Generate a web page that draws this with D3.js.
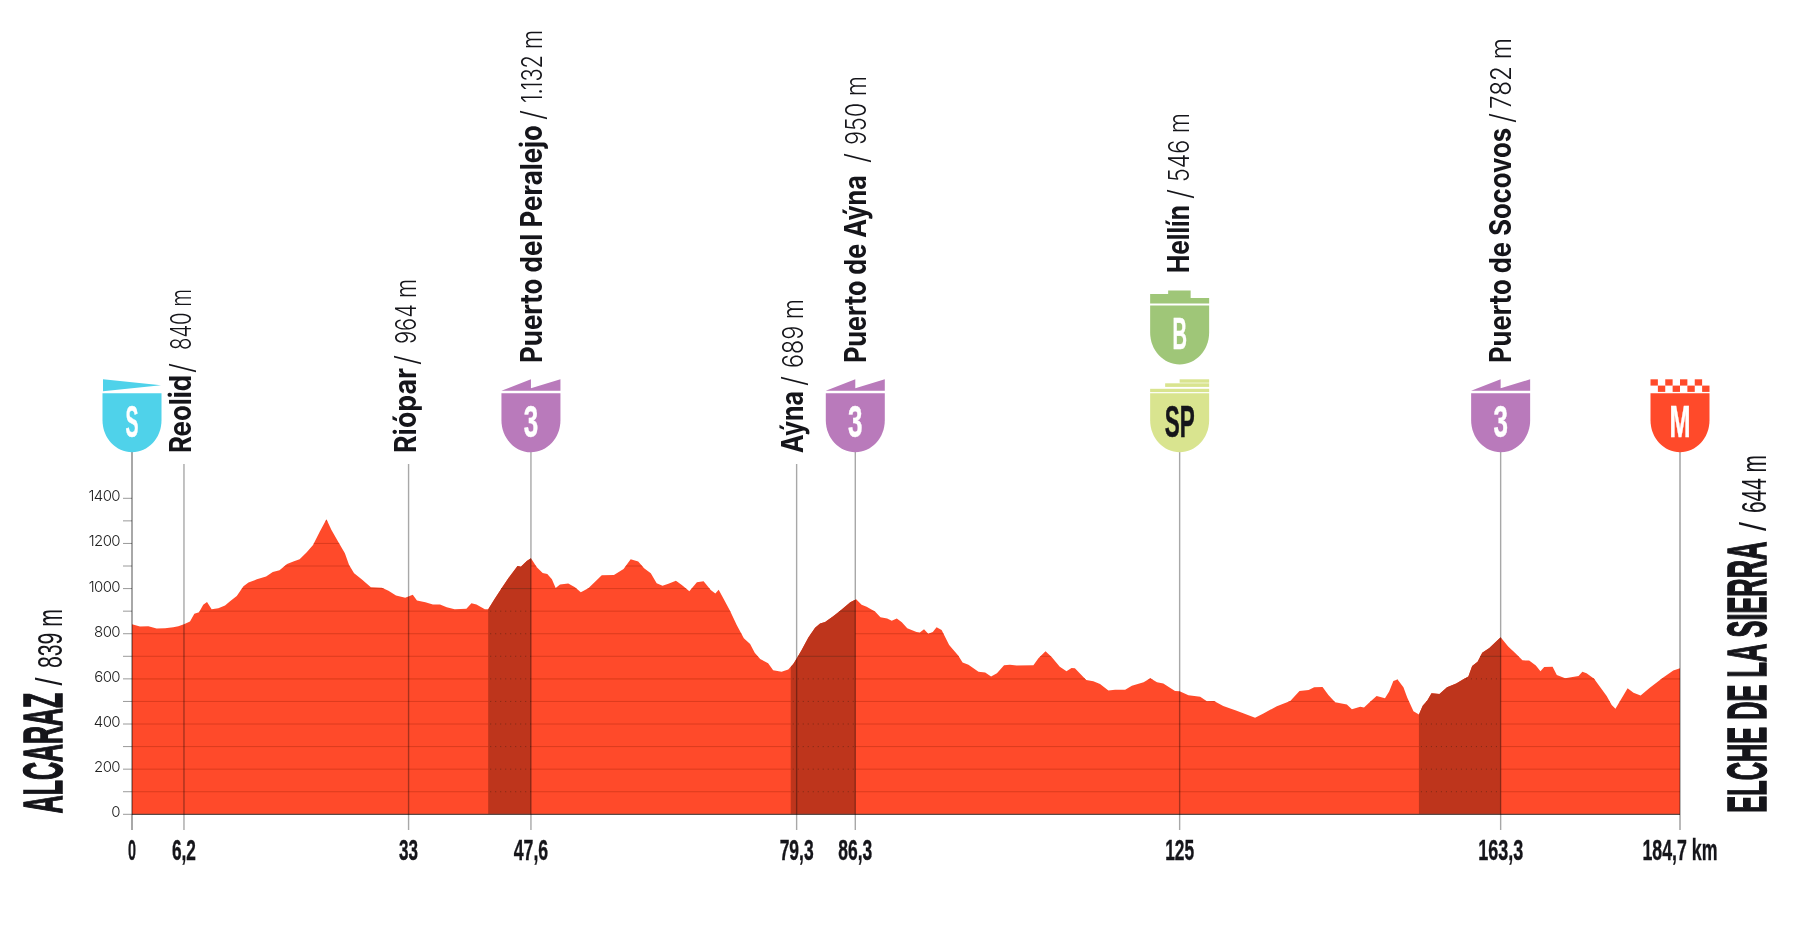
<!DOCTYPE html>
<html>
<head>
<meta charset="utf-8">
<script src="https://cdn.jsdelivr.net/npm/d3@7"></script>
<style>
html,body{margin:0;padding:0;background:#fff;}
svg{display:block;}
</style>
</head>
<body>
<svg id="chart" width="1798" height="938"></svg>
<script>
// profile: km and metres
const kms=[0,.95,1.95,2.94,3.94,4.93,5.53,6.2,6.92,7.44,8,8.5,8.95,9.5,10.3,11.1,11.7,12.5,13.3,13.9,14.9,16,16.8,17.6,18.5,19.25,20,20.85,21.6,22.4,23.2,23.8,24.6,25.4,25.9,26.5,27.4,28.5,29.8,30.6,31.5,32.6,33.5,34,35,35.9,36.75,
37.55,38.5,39.9,40.5,41.1,42.1,42.5,43.3,44.1,44.9,46,46.4,47.1,47.6,48.3,49,49.55,50.1,50.55,51.07,52.05,52.85,53.55,54.45,56.05,57.5,58.65,59.5,60.4,61.1,61.9,62.6,63.3,64,64.9,65.6,66.5,67.4,68.2,69.05,69.6,70,70.55,71.35,72.15,73,73.75,
74.3,74.95,75.9,76.5,77.5,78.3,78.9,79.4,79.9,80.7,81.5,82.1,82.7,83.7,84.5,85.7,86.4,87.05,87.65,88.65,89.3,90.1,90.65,91.25,91.85,92.5,93.6,94,94.5,95,95.55,96,96.6,97.5,98.6,99.1,99.8,101,101.8,102.5,103.2,104.05,104.75,105.55,107.55,108.15,109,109.75,110.7,
111.5,112.1,112.5,113.85,114.7,115.5,116.5,117.3,118.5,119.3,120.7,121.5,122.3,123.05,124.45,125,126.05,127.45,128.25,129.1,130.2,131.8,134,135,136.6,138.2,139.3,140.4,141.05,142.05,142.75,143.55,144.95,145.55,146.55,147,147.7,
148.5,149.5,150,150.5,151,151.7,152.15,152.9,153.55,154,154.55,155.05,156,156.9,158,158.65,159.45,159.9,160.55,161.1,161.95,163.3,164.2,165,165.9,166.7,167.5,168.05,168.5,169.5,170,171,172.6,173.05,173.55,174.45,175.95,176.55,177,178.45,179.15,180,181.1,182.7,183.9,184.7];
const elevs=[842,832,833,823,824,829,833,842,854,888,895,928,941,908,913,925,944,967,1010,1027,1041,1053,1074,1081,1109,1120,1130,1161,1193,1252,1307,1260,1208,1156,1105,1068,1041,1006,1004,990,969,959,973,947,939,930,929,
917,908,911,935,930,908,908,956,1001,1046,1100,1097,1122,1134,1094,1069,1065,1041,1003,1018,1022,1006,984,1001,1059,1060,1087,1130,1120,1090,1068,1024,1013,1021,1035,1016,988,1028,1032,994,978,995,957,902,839,780,755,
716,688,669,638,632,642,666,696,728,783,827,845,852,879,902,939,953,928,920,898,873,867,857,868,851,824,808,805,820,800,808,829,817,750,702,673,663,631,628,610,625,660,663,659,660,691,722,696,654,
634,648,647,595,589,577,548,552,552,570,585,603,585,580,546,545,527,521,501,502,480,459,428,447,479,502,546,551,563,564,529,496,486,465,476,473,498,
524,514,544,591,597,563,518,456,442,481,504,536,533,563,579,594,610,657,676,716,737,784,743,716,682,681,659,634,653,654,617,603,613,631,625,601,524,484,468,558,539,526,561,606,637,647];

// classified climbs: start km, summit km, dotted levels, solid levels
const climbStart=[42.5,78.6,153.55];
const climbEnd=[47.6,86.3,163.3];
const climbDotted=[[100,200,300,400,500,600,700,800,900],[100,200,300,400,500,600],[100,200,300,400,600]];
const climbSolid=[[1000],[700,900],[700]];

const gridLevels=d3.range(100,1400,100);
const yTicks=d3.range(0,1600,200);
const minorTicks=[100,300,500,700,900,1100,1300];

// waypoints along the route
const stopKm=[6.2,33,47.6,79.3,86.3,125,163.3];
const stopName=["Reolid","Riópar","Puerto del Peralejo","Aýna","Puerto de Aýna","Hellín","Puerto de Socovos"];
const stopAlt=["840 m","964 m","1.132 m","689 m","950 m","546 m","782 m"];
const kmLabels=["0","6,2","33","47,6","79,3","86,3","125","163,3","184,7 km"];
const kmValues=[0,6.2,33,47.6,79.3,86.3,125,163.3,184.7];
const kmWidths=[8,24,19,34.5,34,34,29,45,75];

// label layout: along-text lengths, the source squeezes these
const stopDx=[6.8,7.3,10.7,6.7,10.5,9.3,10.4];
const stopBottom=[453,453,363,453,363,273,363];
const stopNameLen=[78,85,238,62,188,68,235];
const stopSlash=[80,88,243,67,200,74,240];
const stopAltStart=[103,109,260,85,218,91,254];
const stopAltLen=[61,65,73,69,69,69,71];

const shieldKm=[0,47.6,86.3,125,163.3,184.7];
const shieldKind=["S","3","3","SP","3","M"];
const shieldColor={S:"#4fd2ea","3":"#b97abb",SP:"#d9e48f",B:"#9fc678",M:"#ff4a2a"};
const shieldWidth={S:13,"3":14.5,SP:30,B:14.5,M:21};

const COND="'Liberation Sans Narrow','Liberation Sans',sans-serif";
const SANS="Inter,'Liberation Sans',sans-serif";
const INK="#15151a";
const RED="#ff4a2a";

const svg=d3.select("#chart");
const x=d3.scaleLinear().domain([0,184.7]).range([132,1680]);
const y=d3.scaleLinear().domain([0,1400]).range([814.3,498.3]);
const profile=kms.map((k,i)=>[k,elevs[i]]);

const areaGen=d3.area().x(d=>x(d[0])).y0(y(0)).y1(d=>y(d[1]));
svg.append("clipPath").attr("id","profileClip").append("path").attr("d",areaGen(profile));
svg.append("path").attr("d",areaGen(profile)).attr("fill",RED);

// gridlines only show inside the profile
const inside=svg.append("g").attr("clip-path","url(#profileClip)");
inside.selectAll("line.grid").data(gridLevels).join("line")
  .attr("class","grid")
  .attr("x1",x(0)).attr("x2",x(184.7))
  .attr("y1",d=>y(d)).attr("y2",d=>y(d))
  .attr("stroke",d=>d===600?"#e9401f":"#dc3b1e")
  .attr("stroke-width",d=>d===600?1.6:1);

climbStart.forEach((s,i)=>{
  inside.append("rect")
    .attr("x",x(s)).attr("width",x(climbEnd[i])-x(s))
    .attr("y",y(1400)).attr("height",y(0)-y(1400))
    .attr("fill","#be351c");
  inside.selectAll(null).data(climbDotted[i]).join("line")
    .attr("x1",x(s)+2).attr("x2",x(climbEnd[i]))
    .attr("y1",d=>y(d)).attr("y2",d=>y(d))
    .attr("stroke","#7d2a16").attr("stroke-width",1)
    .attr("stroke-dasharray","1 4");
  inside.selectAll(null).data(climbSolid[i]).join("line")
    .attr("x1",x(s)).attr("x2",x(climbEnd[i]))
    .attr("y1",d=>y(d)).attr("y2",d=>y(d))
    .attr("stroke","#92301b").attr("stroke-width",1);
});

// left axis
const axisG=svg.append("g");
axisG.selectAll("line.tick").data(yTicks.filter(d=>d<=1400).concat(minorTicks)).join("line")
  .attr("x1",123).attr("x2",x(0))
  .attr("y1",d=>y(d)).attr("y2",d=>y(d))
  .attr("stroke","#9a9a9a").attr("stroke-width",1);
axisG.selectAll("text").data(yTicks.filter(d=>d<=1400)).join("text")
  .attr("x",120).attr("y",d=>y(d)+3)
  .attr("text-anchor","end")
  .attr("font-family",SANS).attr("font-weight",300).attr("font-size",15)
  .attr("letter-spacing",-0.6).attr("fill","#222")
  .text(d=>d);

svg.append("line").attr("x1",x(0)).attr("x2",x(184.7)).attr("y1",y(0)).attr("y2",y(0))
  .attr("stroke","#5b4a46").attr("stroke-width",1.2);

// poles
const poles=svg.append("g").style("mix-blend-mode","multiply");
stopKm.forEach((k,i)=>{
  poles.append("line")
    .attr("x1",x(k)).attr("x2",x(k))
    .attr("y1",stopBottom[i]===453?464:452).attr("y2",830)
    .attr("stroke","#a8a8a8").attr("stroke-width",1.4);
});
poles.append("line").attr("x1",x(0)).attr("x2",x(0)).attr("y1",452).attr("y2",830)
  .attr("stroke","#a8a8a8").attr("stroke-width",2);
poles.append("line").attr("x1",x(184.7)).attr("x2",x(184.7)).attr("y1",452).attr("y2",830)
  .attr("stroke","#8a8a8a").attr("stroke-width",1.2);

// squeezed text helper, rotated labels read upwards
function upText(parent,tx,ty,str,len,size,family,weight,thick){
  return parent.append("text")
    .attr("transform",`translate(${tx},${ty}) rotate(-90)`)
    .attr("font-family",family).attr("font-weight",weight).attr("font-size",size)
    .attr("fill",INK)
    .attr("stroke",thick?INK:"none").attr("stroke-width",thick||0)
    .attr("textLength",len).attr("lengthAdjust","spacingAndGlyphs")
    .text(str);
}

const labels=svg.append("g");
stopKm.forEach((k,i)=>{
  const bx=x(k)+stopDx[i],by=stopBottom[i];
  upText(labels,bx,by,stopName[i],stopNameLen[i],30,SANS,700);
  upText(labels,bx+2,by-stopSlash[i],"/",10,31,SANS,300);
  upText(labels,bx,by-stopAltStart[i],stopAlt[i],stopAltLen[i],28,SANS,300);
});

// start and finish
upText(labels,62.4,813.3,"ALCARAZ",120.5,55,COND,700,1.6);
upText(labels,62.4,685.5,"/",8,36,COND,400);
upText(labels,62.4,668,"839 m",59,35,COND,400);
upText(labels,1765.5,812.7,"ELCHE DE LA SIERRA",271,55,COND,700,1.6);
upText(labels,1765.5,531,"/",9,36,COND,400);
upText(labels,1765.5,513,"644 m",58,35,COND,400);

// km labels under the axis
svg.append("g").selectAll("text").data(kmValues).join("text")
  .attr("x",d=>x(d)).attr("y",860)
  .attr("text-anchor","middle")
  .attr("font-family",COND).attr("font-weight",700).attr("font-size",29.5)
  .attr("fill",INK).attr("stroke",INK).attr("stroke-width",0.4)
  .attr("textLength",(d,i)=>kmWidths[i]).attr("lengthAdjust","spacingAndGlyphs")
  .text((d,i)=>kmLabels[i]);

// shield body, top at 0 and point at 59, half width 29.5
const bodyPath=d3.path();
bodyPath.moveTo(-29.5,0);
bodyPath.lineTo(29.5,0);
bodyPath.lineTo(29.5,27);
bodyPath.bezierCurveTo(29.5,45,16,59,0,59);
bodyPath.bezierCurveTo(-16,59,-29.5,45,-29.5,27);
bodyPath.closePath();

function drawShield(cx,top,kind){
  const g=svg.append("g").attr("transform",`translate(${cx},${top})`);
  const col=shieldColor[kind];
  g.append("path").attr("d",bodyPath.toString()).attr("fill",col);
  const flag=g.append("g").attr("fill",col);
  if(kind==="S"){
    flag.append("polygon").attr("points","-29,-14 29,-8 -29,-2");
  }else if(kind==="3"){
    flag.append("polygon").attr("points","-29.5,-2.5 0,-14 0,-5 29.5,-14 29.5,-2.5");
  }else if(kind==="SP"){
    flag.append("rect").attr("x",-29.5).attr("y",-4.5).attr("width",59).attr("height",3.3);
    flag.append("rect").attr("x",-14.5).attr("y",-10).attr("width",44).attr("height",3.6);
    flag.append("rect").attr("x",0).attr("y",-14).attr("width",29.5).attr("height",3.4);
  }else if(kind==="B"){
    flag.append("polygon").attr("points","-29.5,-2 -29.5,-11.5 -11.5,-11.5 -11.5,-15 11,-15 11,-7.5 29.5,-7.5 29.5,-2");
  }else if(kind==="M"){
    d3.range(8).forEach(c=>{
      flag.append("rect")
        .attr("x",-29.5+c*59/8).attr("y",c%2?-7.7:-14)
        .attr("width",59/8).attr("height",6.3);
    });
  }
  const ink=kind==="SP"?INK:"#fff";
  g.append("text")
    .attr("x",0).attr("y",43.5)
    .attr("text-anchor","middle")
    .attr("font-family",COND).attr("font-weight",700).attr("font-size",44)
    .attr("fill",ink).attr("stroke",ink).attr("stroke-width",0.5)
    .attr("textLength",shieldWidth[kind]).attr("lengthAdjust","spacingAndGlyphs")
    .text(kind);
}
shieldKm.forEach((k,i)=>drawShield(x(k),393.3,shieldKind[i]));
drawShield(x(125),305.5,"B");
</script>
</body>
</html>
